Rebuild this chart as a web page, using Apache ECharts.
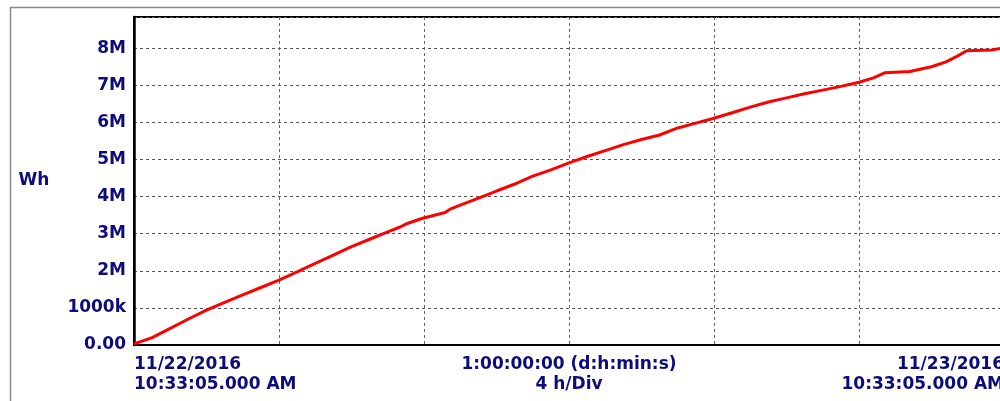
<!DOCTYPE html>
<html>
<head>
<meta charset="utf-8">
<style>
html,body{margin:0;padding:0;background:#fff;}
#chart{width:1000px;height:401px;}
</style>
<script src="https://cdn.jsdelivr.net/npm/echarts@6/dist/echarts.min.js"></script>
</head>
<body>
<div id="chart"></div>
<script>
// elapsed hours since 11/22/2016 10:33:05 AM
var hours = [0, 0.5, 1, 1.5, 2, 2.5, 3, 3.5, 4, 4.5, 5, 5.5, 6, 6.5, 7, 7.34, 7.5, 7.94, 8.58, 8.72, 9, 9.54, 10, 10.56, 11, 11.5, 12, 12.5, 13, 13.5, 14, 14.5, 15, 15.5, 16, 16.5, 17, 17.5, 18, 18.5, 19, 19.5, 20, 20.4, 20.72, 21.4, 22, 22.4, 22.7, 22.97, 23.66, 24];
// cumulative energy, MWh
var energyM = [0.03, 0.2, 0.45, 0.7, 0.94, 1.15, 1.35, 1.55, 1.75, 1.97, 2.2, 2.42, 2.65, 2.85, 3.05, 3.18, 3.26, 3.41, 3.57, 3.66, 3.77, 3.97, 4.15, 4.36, 4.55, 4.72, 4.91, 5.08, 5.24, 5.4, 5.54, 5.66, 5.85, 5.98, 6.11, 6.26, 6.41, 6.55, 6.66, 6.77, 6.87, 6.97, 7.08, 7.2, 7.34, 7.37, 7.5, 7.63, 7.78, 7.93, 7.95, 8.01];
var yTickLabels = {0: '0.00', 1: '1000k', 2: '2M', 3: '3M', 4: '4M', 5: '5M', 6: '6M', 7: '7M', 8: '8M'};
var xTickLabels = {0: '11/22/2016\n10:33:05.000 AM', 12: '1:00:00:00 (d:h:min:s)\n4 h/Div', 24: '11/23/2016\n10:33:05.000 AM'};
var yAxisTitle = 'Wh';

var navy = '#0c0c7a';
var fontFam = 'DejaVu Sans';
var data = hours.map(function (h, i) { return [h, energyM[i]]; });

var chart = echarts.init(document.getElementById('chart'), null, {renderer: 'canvas'});
chart.setOption({
  animation: false,
  backgroundColor: '#fff',
  graphic: [{
    type: 'rect', silent: true, z: -1,
    shape: {x: 10.5, y: 7.5, width: 1100, height: 500},
    style: {fill: 'none', stroke: '#888', lineWidth: 1.5}
  }],
  grid: {left: 134, top: 17, width: 870, height: 328, show: true, borderColor: '#000', borderWidth: 2, backgroundColor: '#fff', outerBoundsMode: 'none', containLabel: false},
  xAxis: {
    type: 'value', min: 0, max: 24, interval: 4,
    axisLine: {show: true, onZero: false, lineStyle: {color: '#000', width: 2}},
    axisTick: {show: false},
    splitLine: {show: true, lineStyle: {color: '#666', type: [3, 3], width: 1}},
    axisLabel: {
      show: true, interval: 0, margin: 10, color: navy, fontFamily: fontFam, fontWeight: 'bold', fontSize: 17, lineHeight: 20,
      alignMinLabel: 'left', alignMaxLabel: 'right', hideOverlap: false,
      formatter: function (v) { return xTickLabels[v] || ''; }
    }
  },
  yAxis: {
    type: 'value', min: 0, max: 8.84, interval: 1,
    name: yAxisTitle, nameLocation: 'middle', nameGap: 100, nameRotate: 0,
    nameTextStyle: {color: navy, fontFamily: fontFam, fontWeight: 'bold', fontSize: 17, align: 'center', verticalAlign: 'middle', padding: [4, 0, 0, 0]},
    axisLine: {show: true, lineStyle: {color: '#000', width: 2.5}},
    axisTick: {show: false},
    splitLine: {show: true, lineStyle: {color: '#555', type: [3, 3], width: 1}},
    axisLabel: {
      margin: 8, color: navy, fontFamily: fontFam, fontWeight: 'bold', fontSize: 17,
      showMaxLabel: false,
      formatter: function (v) { return (v in yTickLabels && Math.abs(v - Math.round(v)) < 1e-9) ? yTickLabels[v] : ''; }
    }
  },
  series: [{
    type: 'line', data: data, showSymbol: false, clip: true,
    lineStyle: {color: '#ff0000', width: 3}
  }]
});
</script>
</body>
</html>
